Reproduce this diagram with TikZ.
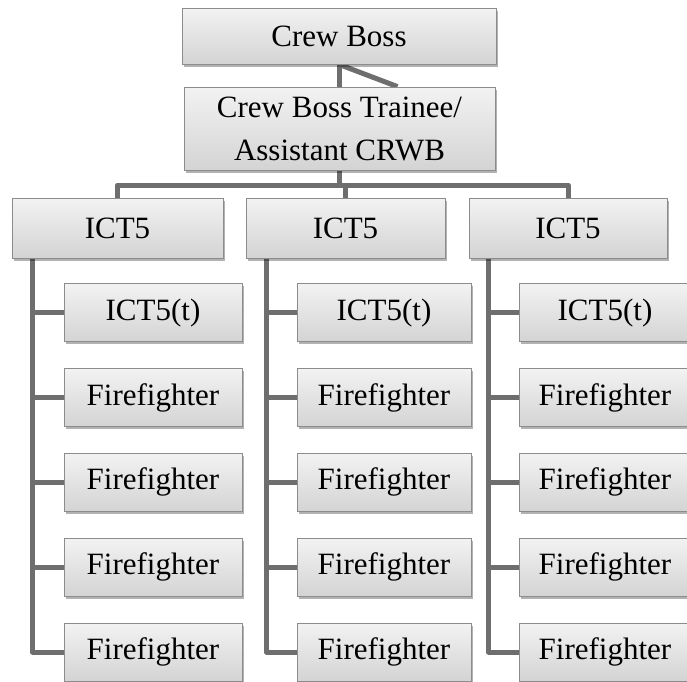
\documentclass[tikz,border=0pt]{standalone}
\usepackage{fontspec}
\setmainfont{Liberation Serif}
\usepackage{xcolor}
\usepackage{tikz}
\usetikzlibrary{positioning, shadows, backgrounds, calc}
\definecolor{linegray}{rgb}{0.43,0.43,0.43}
\definecolor{boxline}{rgb}{0.55,0.55,0.55}
\definecolor{boxtop}{rgb}{0.95,0.95,0.95}
\definecolor{boxbot}{rgb}{0.83,0.83,0.83}
\tikzstyle{bx}=[%
      rectangle, draw=boxline, line width=0.8pt, top color=boxtop, bottom color=boxbot,
      drop shadow={shadow xshift=1.5pt, shadow yshift=-2.5pt, opacity=0.3, fill=black},
      minimum height=58pt, inner sep=2pt, align=center, font=\fontsize{31}{43}\selectfont
]
\tikzstyle{ln}=[%
      draw=linegray, line width=5pt, line join=round
]

\begin{document}
\begin{tikzpicture}[x=1pt, y=-1pt]
    \useasboundingbox (0,0) rectangle (687,681);

    % top of the crew
    \node[bx, minimum width=314pt, minimum height=56pt] (0) at (339,36) {Crew Boss};
    \node[bx, minimum width=311pt, minimum height=83pt] (1) at (339.5,128.5) {Crew Boss Trainee/\\Assistant CRWB};

    \node[bx, minimum width=211pt, minimum height=60pt] (i1) at (117.5,228) {ICT5};
    \node[bx, minimum width=199pt, minimum height=60pt] (i2) at (345.5,228) {ICT5};
    \node[bx, minimum width=198pt, minimum height=60pt] (i3) at (568,228) {ICT5};

    \coordinate (bar) at (339,185);
    \coordinate (s1) at ([xshift=21pt]i1.south west);
    \coordinate (s2) at ([xshift=21pt]i2.south west);
    \coordinate (s3) at ([xshift=20pt]i3.south west);

    % left squad
    \node[bx, minimum width=178pt] (a1) [below right=25pt and 31pt of s1] {ICT5(t)};
    \node[bx, minimum width=178pt] (a2) [below=26pt of a1] {Firefighter};
    \node[bx, minimum width=178pt] (a3) [below=26pt of a2] {Firefighter};
    \node[bx, minimum width=178pt] (a4) [below=26pt of a3] {Firefighter};
    \node[bx, minimum width=178pt] (a5) [below=26pt of a4] {Firefighter};

    % middle squad
    \node[bx, minimum width=174pt] (b1) [below right=25pt and 30pt of s2] {ICT5(t)};
    \node[bx, minimum width=174pt] (b2) [below=26pt of b1] {Firefighter};
    \node[bx, minimum width=174pt] (b3) [below=26pt of b2] {Firefighter};
    \node[bx, minimum width=174pt] (b4) [below=26pt of b3] {Firefighter};
    \node[bx, minimum width=174pt] (b5) [below=26pt of b4] {Firefighter};

    % right squad
    \node[bx, minimum width=172pt] (c1) [below right=25pt and 30pt of s3] {ICT5(t)};
    \node[bx, minimum width=172pt] (c2) [below=26pt of c1] {Firefighter};
    \node[bx, minimum width=172pt] (c3) [below=26pt of c2] {Firefighter};
    \node[bx, minimum width=172pt] (c4) [below=26pt of c3] {Firefighter};
    \node[bx, minimum width=172pt] (c5) [below=26pt of c4] {Firefighter};

    \begin{scope}[on background layer]
    \draw[ln] (0.south) -- (0.south |- 1.north);
    \draw[ln] (0.south) -- ([xshift=58pt]1.north);
    \draw[ln] (1.south) -- (1.south |- bar);
    \draw[ln] (i1.north) |- (bar) -| (i3.north);
    \draw[ln] (i2.north) -- (i2.north |- bar);

    \draw[ln] (s1) |- (a5);
    \draw[ln] (s2) |- (b5);
    \draw[ln] (s3) |- (c5);
    \path[ln] (s1 |- a1) edge (a1)
              (s1 |- a2) edge (a2)
              (s1 |- a3) edge (a3)
              (s1 |- a4) edge (a4)
              (s2 |- b1) edge (b1)
              (s2 |- b2) edge (b2)
              (s2 |- b3) edge (b3)
              (s2 |- b4) edge (b4)
              (s3 |- c1) edge (c1)
              (s3 |- c2) edge (c2)
              (s3 |- c3) edge (c3)
              (s3 |- c4) edge (c4)
    ;
    \end{scope}

  \end{tikzpicture}
\end{document}
